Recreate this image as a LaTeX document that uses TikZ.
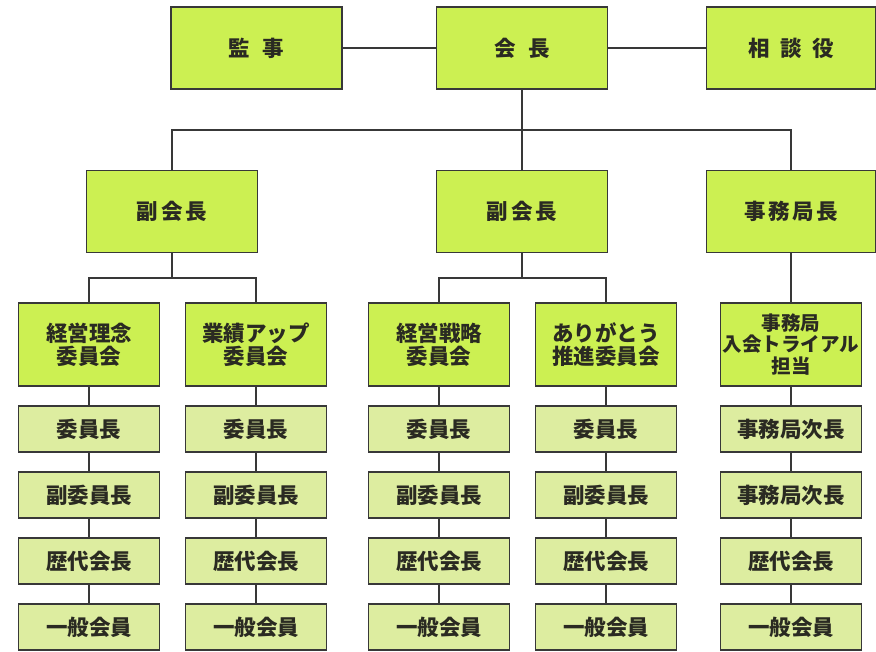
\documentclass[tikz,border=0pt]{standalone}
\usepackage{fontspec}
\newfontfamily\jp{Noto Sans CJK JP}
\definecolor{topfill}{HTML}{CCF052}
\definecolor{subfill}{HTML}{DDEDA0}
\definecolor{linec}{HTML}{383838}
\definecolor{txt}{HTML}{2A2A22}
\begin{document}
\begin{tikzpicture}[x=1pt,y=-1pt,
  box/.style={draw=linec, line width=1.6pt, inner sep=0pt, text=txt, align=center,
    font=\jp\bfseries\fontsize{21.5}{23}\selectfont},
  topbox/.style={box, fill=topfill, minimum width=171pt, minimum height=82pt},
  combox/.style={box, fill=topfill, minimum width=141pt, minimum height=83pt},
  subbox/.style={box, fill=subfill, minimum width=141pt, minimum height=46pt},
  conn/.style={draw=linec, line width=1.4pt}]
\useasboundingbox (0,0) rectangle (876,651);
% top row
\node[topbox] (kansa) at (256.5,48) {監\hspace{0.6em}事};
\node[topbox] (kaicho) at (522,48) {会\hspace{0.6em}長};
\node[topbox, minimum width=169pt] (sodan) at (791,48) {相\hspace{0.5em}談\hspace{0.5em}役};
% second row
\node[topbox] (fkL) at (172,211.5) {副\hspace{0.15em}会\hspace{0.15em}長};
\node[topbox] (fkM) at (522,211.5) {副\hspace{0.15em}会\hspace{0.15em}長};
\node[topbox, minimum width=169pt] (jmk) at (791,211.5) {事\hspace{0.12em}務\hspace{0.12em}局\hspace{0.12em}長};
% committees
\node[combox] (c1) at (89,344.5) {経営理念\\委員会};
\node[combox] (c2) at (256,344.5) {業績アップ\\委員会};
\node[combox] (c3) at (439,344.5) {経営戦略\\委員会};
\node[combox] (c4) at (606,344.5) {ありがとう\\推進委員会};
\node[combox, font=\jp\bfseries\fontsize{19.5}{21.5}\selectfont] (c5) at (791,344.5) {事務局\\入会トライアル\\担当};
% sub boxes
\foreach \n/\x in {1/89,2/256,3/439,4/606}{
  \node[subbox] (s\n a) at (\x,429) {委員長};
  \node[subbox] (s\n b) at (\x,495) {副委員長};
  \node[subbox] (s\n c) at (\x,561) {歴代会長};
  \node[subbox] (s\n d) at (\x,627) {一般会員};
}
\node[subbox] (s5a) at (791,429) {事務局次長};
\node[subbox] (s5b) at (791,495) {事務局次長};
\node[subbox] (s5c) at (791,561) {歴代会長};
\node[subbox] (s5d) at (791,627) {一般会員};
% connectors
\coordinate (bar1) at (522,130);
\coordinate (bar2) at (172,278);
\coordinate (bar3) at (522,278);
\draw[conn] (kansa) -- (kaicho);
\draw[conn] (kaicho) -- (sodan);
\draw[conn] (kaicho) -- (fkM);
\draw[conn] (fkL.north) |- (bar1) -| (jmk.north);
\draw[conn] (fkL) -- (bar2);
\draw[conn] (c1.north) |- (bar2) -| (c2.north);
\draw[conn] (fkM.south) -- (bar3);
\draw[conn] (c3.north) |- (bar3) -| (c4.north);
\draw[conn] (jmk) -- (c5);
\foreach \n in {1,...,5}{
  \draw[conn] (c\n) -- (s\n a);
  \draw[conn] (s\n a) -- (s\n b);
  \draw[conn] (s\n b) -- (s\n c);
  \draw[conn] (s\n c) -- (s\n d);
}
\end{tikzpicture}
\end{document}
